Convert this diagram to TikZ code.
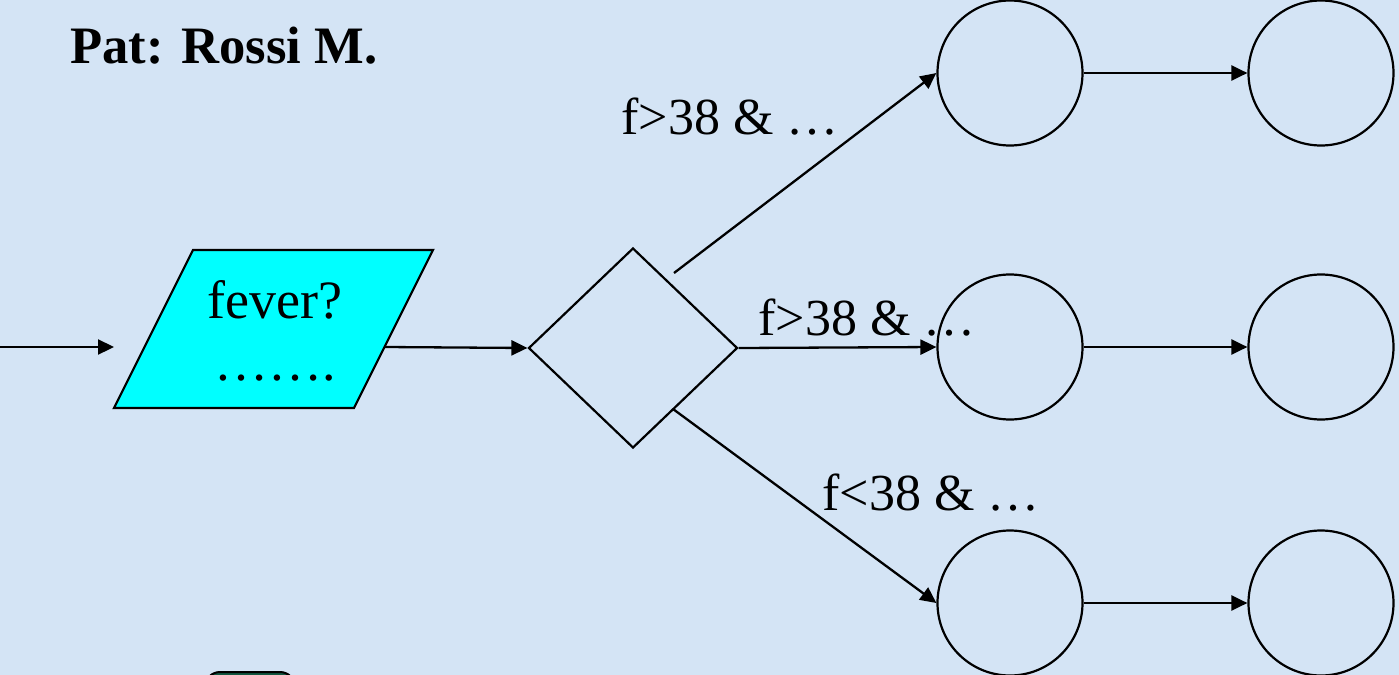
\documentclass[tikz,border=0pt]{standalone}
\usepackage{fontspec}
\setmainfont{LiberationSerif}[Extension=.ttf,UprightFont=*-Regular,BoldFont=*-Bold,ItalicFont=*-Italic,BoldItalicFont=*-BoldItalic]
\usetikzlibrary{shapes.geometric,arrows.meta}
\definecolor{bgblue}{RGB}{212,228,245}
\definecolor{cyanfill}{RGB}{0,255,255}
\definecolor{darkgreen}{RGB}{18,88,66}
\tikzset{
  conn/.style={line width=1.15pt,-{Triangle[length=8pt,width=7.5pt]}},
  state/.style={circle,draw,line width=1.1pt,minimum size=72.5pt,inner sep=0pt},
  decision/.style={diamond,draw,line width=1.1pt,minimum width=104.5pt,minimum height=100pt,inner sep=0pt,aspect=1.05},
  lbl/.style={anchor=base west,inner sep=0pt,font=\fontsize{26}{30}\selectfont},
}
\begin{document}
\begin{tikzpicture}[x=0.5pt,y=-0.5pt]
\useasboundingbox (0,0) rectangle (1399,675);
\fill[bgblue] (0,0) rectangle (1399,675);
% partial shape at bottom
\begin{scope}
\clip (0,0) rectangle (1399,675);
\draw[fill=darkgreen,line width=1pt,rounded corners=7.5pt] (205,672) rectangle (295,730);
\end{scope}
% title
\node[anchor=base west,inner sep=0pt,font=\fontsize{26.3}{30}\selectfont\bfseries] (title) at (70,63) {Pat: Rossi M.};
% parallelogram
\draw[fill=cyanfill,line width=1.1pt] (114,408) -- (193,250) -- (433,250) -- (354,408) -- cycle;
\node[anchor=base west,inner sep=0pt,font=\fontsize{27}{30}\selectfont] (fever) at (207,318) {fever?};
\node[anchor=base west,inner sep=0pt,font=\fontsize{27}{30}\selectfont] (dots) at (214,380) {…….};
\coordinate (pin) at (114,347);
\coordinate (src) at (0,347);
\coordinate (pout) at (385,347);
% diamond
\node[decision] (d) at (633,348) {};
\coordinate (dtop) at (674,273);
\coordinate (dbot) at (673,409);
% circles
\node[state] (a1) at (1010,73) {};
\node[state] (a2) at (1321,73) {};
\node[state] (b1) at (1010,347) {};
\node[state] (b2) at (1321,347) {};
\node[state] (c1) at (1010,603) {};
\node[state] (c2) at (1321,603) {};
% connectors
\draw[conn] (src) -- (pin);
\draw[conn] (pout) -- (d.west);
\draw[conn] (dtop) -- (a1.west);
\draw[conn] (d.east) -- (b1.west);
\draw[conn] (dbot) -- (c1.west);
\draw[conn] (a1.east) -- (a2.west);
\draw[conn] (b1.east) -- (b2.west);
\draw[conn] (c1.east) -- (c2.west);
% labels
\node[lbl] (l1) at (621,134) {f>38 \& …};
\node[lbl] (l2) at (758,335) {f>38 \& …};
\node[lbl] (l3) at (822,510) {f<38 \& …};
\end{tikzpicture}
\end{document}
